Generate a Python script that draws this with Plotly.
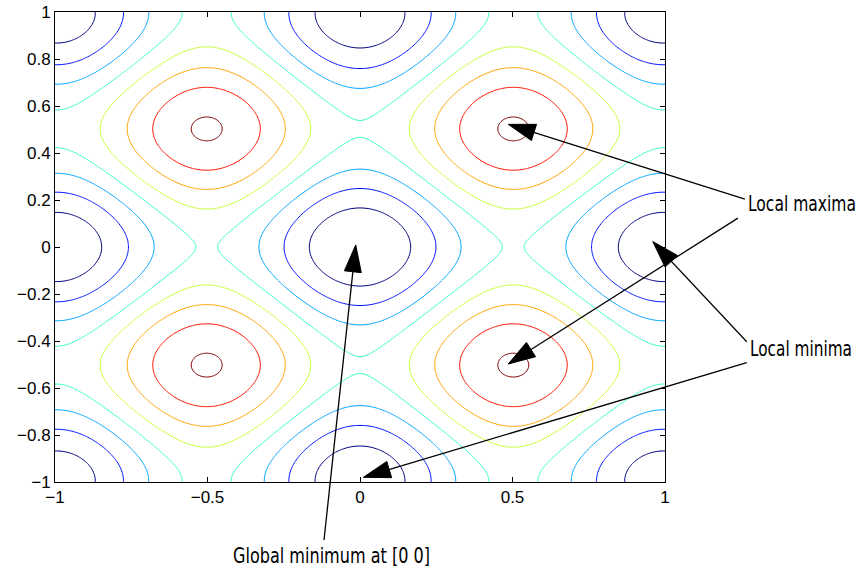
import numpy as np
import plotly.graph_objects as go

# ---- data -------------------------------------------------------------
x_range = [-1.0, 1.0]
y_range = [-1.0, 1.0]
n_grid = 301
contour_levels = [5, 10, 15, 20, 25, 30, 35, 40]
# MATLAB jet colours for the 8 contour levels
level_colors = ["rgb(0,0,128)", "rgb(0,18,255)", "rgb(0,164,255)", "rgb(55,255,200)",
                "rgb(200,255,55)", "rgb(255,164,0)", "rgb(255,18,0)", "rgb(128,0,0)"]
x_tickvals = [-1, -0.5, 0, 0.5, 1]
x_ticktext = ["\u22121", "\u22120.5", "0", "0.5", "1"]
y_tickvals = [-1, -0.8, -0.6, -0.4, -0.2, 0, 0.2, 0.4, 0.6, 0.8, 1]
y_ticktext = ["\u22121", "\u22120.8", "\u22120.6", "\u22120.4", "\u22120.2", "0",
              "0.2", "0.4", "0.6", "0.8", "1"]

# annotation labels and arrows (tip -> tail), in data units
label_texts = ["Local maxima", "Local minima", "Global minimum at [0 0]"]
arrow_tip_x = [0.486, 0.486, 0.96, 0.011, -0.014]
arrow_tip_y = [0.522, -0.498, 0.023, -0.980, 0.009]
arrow_tail_x = [1.262, 1.239, 1.268, 1.268, -0.118]
arrow_tail_y = [0.204, 0.123, -0.403, -0.492, -1.247]

# Rastrigin's function sampled on the plotting grid
xg = np.linspace(x_range[0], x_range[1], n_grid)
yg = np.linspace(y_range[0], y_range[1], n_grid)
X, Y = np.meshgrid(xg, yg)
Z = 20 + X**2 + Y**2 - 10 * (np.cos(2 * np.pi * X) + np.cos(2 * np.pi * Y))

# ---- layout -----------------------------------------------------------
W, H = 863, 570
ML, MR, MT, MB = 55, 198, 12, 88
PW, PH = W - ML - MR, H - MT - MB
label_cx = [1.449, 1.446, -0.093]      # label centres (data units)
label_cy = [0.183, -0.434, -1.311]
label_len = [108, 102, 197]            # rendered label widths (px)

nlev = len(contour_levels)
colorscale = [[i / (nlev - 1), c] for i, c in enumerate(level_colors)]

fig = go.Figure()
fig.add_trace(go.Contour(
    x=xg, y=yg, z=Z,
    contours=dict(start=contour_levels[0], end=contour_levels[-1],
                  size=contour_levels[1] - contour_levels[0], coloring="lines"),
    colorscale=colorscale, showscale=False, line=dict(width=1),
    hoverinfo="skip",
))


def to_px(x, y):
    px = (x - x_range[0]) / (x_range[1] - x_range[0]) * PW
    py = (y - y_range[0]) / (y_range[1] - y_range[0]) * PH
    return px, py


shapes = []
head_len, head_half = 27.0, 8.5
for tx, ty, ax, ay in zip(arrow_tip_x, arrow_tip_y, arrow_tail_x, arrow_tail_y):
    tpx, tpy = to_px(tx, ty)
    apx, apy = to_px(ax, ay)
    dx, dy = apx - tpx, apy - tpy
    d = (dx**2 + dy**2) ** 0.5
    ux, uy = dx / d, dy / d
    bx, by = tpx + ux * head_len, tpy + uy * head_len
    nx, ny = -uy, ux
    p1 = (bx + nx * head_half, by + ny * head_half)
    p2 = (bx - nx * head_half, by - ny * head_half)
    shapes.append(dict(type="line", xref="paper", yref="paper",
                       x0=apx / PW, y0=apy / PH, x1=(bx + tpx) / 2 / PW, y1=(by + tpy) / 2 / PH,
                       line=dict(color="black", width=1.3), layer="above"))
    path = "M{:.5f},{:.5f} L{:.5f},{:.5f} L{:.5f},{:.5f} Z".format(
        tpx / PW, tpy / PH, p1[0] / PW, p1[1] / PH, p2[0] / PW, p2[1] / PH)
    shapes.append(dict(type="path", xref="paper", yref="paper", path=path,
                       fillcolor="black", line=dict(color="black", width=1), layer="above"))

annotations = []
for t, lx, ly, wl in zip(label_texts, label_cx, label_cy, label_len):
    px, py = to_px(lx, ly)
    annotations.append(dict(text=t, x=px / PW, y=py / PH, xref="paper", yref="paper",
                            xanchor="center", yanchor="middle", showarrow=False,
                            width=wl + 4, borderpad=0,
                            font=dict(family="DejaVu Sans Condensed, DejaVu Sans, sans-serif",
                                      size=21.5, color="black")))

axis_common = dict(showgrid=False, zeroline=False, showline=True, linecolor="black",
                   linewidth=1, mirror="ticks", ticks="inside", ticklen=5,
                   tickcolor="black", tickwidth=1,
                   tickfont=dict(family="Liberation Sans, Arial, sans-serif", size=17, color="black"))

fig.update_layout(
    width=W, height=H, autosize=False,
    margin=dict(l=ML, r=MR, t=MT, b=MB, pad=0, autoexpand=False),
    paper_bgcolor="white", plot_bgcolor="white",
    xaxis=dict(range=x_range, tickmode="array", tickvals=x_tickvals, ticktext=x_ticktext,
               **axis_common),
    yaxis=dict(range=y_range, tickmode="array", tickvals=y_tickvals, ticktext=y_ticktext,
               **axis_common),
    shapes=shapes, annotations=annotations, showlegend=False,
)

len_map = ", ".join('"{}": {}'.format(t, w) for t, w in zip(label_texts, label_len))
post_js = """
document.body.style.margin = '0';
document.body.style.overflow = 'hidden';
var gd = document.getElementById('{plot_id}');
var lens = {""" + len_map + """};
gd.querySelectorAll('.annotation-text').forEach(function(t) {
  var w = lens[t.textContent];
  if (w) { t.setAttribute('textLength', w); t.setAttribute('lengthAdjust', 'spacingAndGlyphs'); }
});
"""

fig.write_html("out.html", post_script=post_js, config={"displayModeBar": False})
